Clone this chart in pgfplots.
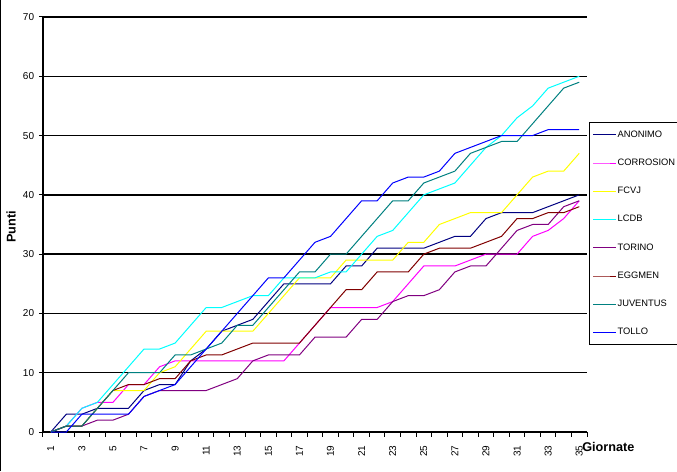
\documentclass[border=0pt]{standalone}
\usepackage{fontspec}
\setmainfont{Liberation Sans}
\usepackage{pgfplots}
\usepackage{pgfplotstable}
\pgfplotsset{compat=1.18}
\definecolor{cANON}{RGB}{0,0,128}
\definecolor{cCORR}{RGB}{255,0,255}
\definecolor{cFCVJ}{RGB}{255,255,0}
\definecolor{cLCDB}{RGB}{0,255,255}
\definecolor{cTORI}{RGB}{128,0,128}
\definecolor{cEGGM}{RGB}{128,0,0}
\definecolor{cJUVE}{RGB}{0,128,128}
\definecolor{cTOLL}{RGB}{0,0,255}
\pgfplotstableread{
x A C F L T E J O
1 0 0 0 0 0 0 0 0
2 3 1 1 1 1 1 1 0
3 3 4 1 4 1 1 1 3
4 4 5 4 5 2 4 4 3
5 4 5 7 8 2 7 7 3
6 4 8 7 11 3 8 10 3
7 7 8 7 14 6 8 10 6
8 8 11 10 14 7 9 10 7
9 8 12 11 15 7 9 13 8
10 12 12 14 18 7 12 13 11
11 14 12 17 21 7 13 14 14
12 17 12 17 21 8 13 15 17
13 18 12 17 22 9 14 18 20
14 19 12 17 23 12 15 18 23
15 22 12 20 23 13 15 21 26
16 25 12 23 26 13 15 24 26
17 25 15 26 26 13 15 27 29
18 25 18 26 26 16 18 27 32
19 25 21 26 27 16 21 30 33
20 28 21 29 27 16 24 30 36
21 28 21 29 30 19 24 33 39
22 31 21 29 33 19 27 36 39
23 31 22 29 34 22 27 39 42
24 31 25 32 37 23 27 39 43
25 31 28 32 40 23 30 42 43
26 32 28 35 41 24 31 43 44
27 33 28 36 42 27 31 44 47
28 33 29 37 45 28 31 47 48
29 36 30 37 48 28 32 48 49
30 37 30 37 50 31 33 49 50
31 37 30 40 53 34 36 49 50
32 37 33 43 55 35 36 52 50
33 38 34 44 58 35 37 55 51
34 39 36 44 59 38 37 58 51
35 40 39 47 60 39 38 59 51
}\datatable
\begin{document}
\begin{tikzpicture}[x=0.75pt,y=0.75pt]
\begin{axis}[
  at={(0,0)}, anchor=south west,
  scale only axis, width=408pt, height=311.25pt,
  xmin=0.5, xmax=35.5, ymin=0, ymax=70,
  axis x line=bottom, axis y line=left,
  axis line style={-, black, line width=1pt},
  xtick={1,3,...,35},
  minor xtick={0.5,1.5,...,35.5},
  major x tick style={draw=none},
  minor x tick style={black, line width=0.75pt},
  minor tick length=3.5pt,
  ytick={0,10,...,70},
  y tick style={black, line width=0.75pt},
  major tick length=3pt,
  tick align=outside,
  ymajorgrids,
  grid style={black, line width=1pt},
  /pgf/number format/assume math mode=true,
  tick label style={font=\fontsize{7.5}{9}\selectfont},
  xticklabel style={rotate=90, anchor=east, inner sep=0pt},
  xticklabel shift=7pt,
  yticklabel style={inner sep=0pt},
  yticklabel shift=3.5pt,
  clip=false,
  legend style={at={(rel axis cs:1.0037,0.747)}, anchor=north west,
    draw=black, line width=0.75pt, font=\fontsize{7}{8}\selectfont,
    row sep=12.8pt, inner xsep=2.25pt, inner ysep=5pt,
    nodes={inner sep=1pt}},
  legend cell align=left,
  every axis plot/.append style={line width=0.75pt},
]
\addplot[cANON] table[x=x,y=A]{\datatable};
\addlegendentry{ANONIMO}
\addplot[cCORR] table[x=x,y=C]{\datatable};
\addlegendentry{CORROSION}
\addplot[cFCVJ] table[x=x,y=F]{\datatable};
\addlegendentry{FCVJ}
\addplot[cLCDB] table[x=x,y=L]{\datatable};
\addlegendentry{LCDB}
\addplot[cTORI] table[x=x,y=T]{\datatable};
\addlegendentry{TORINO}
\addplot[cEGGM] table[x=x,y=E]{\datatable};
\addlegendentry{EGGMEN}
\addplot[cJUVE] table[x=x,y=J]{\datatable};
\addlegendentry{JUVENTUS}
\addplot[cTOLL] table[x=x,y=O]{\datatable};
\addlegendentry{TOLLO}
\coordinate (O) at (rel axis cs:0,0);
\end{axis}
\pgfresetboundingbox
\begin{scope}[shift={(O)}]
\path[use as bounding box] (-43,-39) rectangle (634,432);
\draw[black,line width=0.75pt] (-42.5,-39) -- (-42.5,432);
\node[anchor=west, inner sep=0pt, font=\fontsize{9.5}{11}\selectfont\bfseries] at (539,-15) {Giornate};
\node[rotate=90, inner sep=0pt, font=\fontsize{9.5}{11}\selectfont\bfseries] at (-32,205) {Punti};
\end{scope}
\end{tikzpicture}
\end{document}
